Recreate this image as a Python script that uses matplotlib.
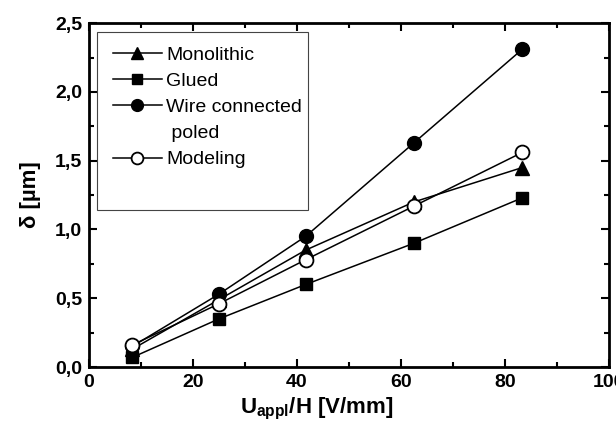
import numpy as np
import matplotlib
matplotlib.use('Agg')
import matplotlib.pyplot as plt
from matplotlib.ticker import FuncFormatter, MultipleLocator
from matplotlib.lines import Line2D
from matplotlib.patches import Rectangle

plt.rcParams['font.family'] = ['Liberation Sans', 'DejaVu Sans']

x = [8.33, 25.0, 41.67, 62.5, 83.33]
monolithic = [0.13, 0.49, 0.85, 1.20, 1.45]
glued = [0.07, 0.35, 0.60, 0.90, 1.23]
wire = [0.15, 0.53, 0.95, 1.63, 2.31]
modeling = [0.16, 0.46, 0.78, 1.17, 1.56]

fig = plt.figure(figsize=(6.16, 4.28), dpi=100)
ax = fig.add_axes([0.1445, 0.1425, 0.8441, 0.8035])

h1, = ax.plot(x, monolithic, '-^', color='black', lw=1.1, ms=10)
h2, = ax.plot(x, glued, '-s', color='black', lw=1.1, ms=9)
h3, = ax.plot(x, wire, '-o', color='black', lw=1.1, ms=10)
h4, = ax.plot(x, modeling, '-o', color='black', mfc='white', mew=1.3, lw=1.1, ms=10)

ax.set_xlim(0, 100)
ax.set_ylim(0, 2.5)
ax.xaxis.set_major_locator(MultipleLocator(20))
ax.xaxis.set_minor_locator(MultipleLocator(10))
ax.yaxis.set_major_locator(MultipleLocator(0.5))
ax.yaxis.set_minor_locator(MultipleLocator(0.25))
ax.yaxis.set_major_formatter(FuncFormatter(lambda v, p: ('%.1f' % v).replace('.', ',')))

ax.tick_params(which='both', direction='in', top=True, right=True, width=1.5)
ax.tick_params(which='major', length=6, labelsize=14, pad=5)
ax.tick_params(which='minor', length=3.5)
for lab in ax.get_xticklabels() + ax.get_yticklabels():
    lab.set_fontweight('bold')
for sp in ax.spines.values():
    sp.set_linewidth(2)

ax.set_xlabel('U$_{\\mathregular{appl}}$/H [V/mm]', fontsize=16, fontweight='bold', labelpad=4)
ax.xaxis.set_label_coords(0.437, -0.085)
ax.set_ylabel('δ [µm]', fontsize=16, fontweight='bold', labelpad=10)

# legend: "poled" sits on its own row without a symbol
blank = Line2D([], [], color='none')
leg = ax.legend([h1, h2, h3, blank, h4],
                ['Monolithic', 'Glued', 'Wire connected', ' poled', 'Modeling'],
                loc='upper left', bbox_to_anchor=(0.046, 0.933), borderaxespad=0,
                borderpad=0, fontsize=14, frameon=False,
                handlelength=2.5, handletextpad=0.25, labelspacing=0.44,
                markerscale=0.85)
ax.add_patch(Rectangle((0.0154, 0.4564), 0.4056, 0.5176, transform=ax.transAxes,
                       fill=True, facecolor='white', edgecolor='#444444', lw=0.8, zorder=4.5))
leg.set_zorder(5)

fig.savefig('out.png', dpi=100)
